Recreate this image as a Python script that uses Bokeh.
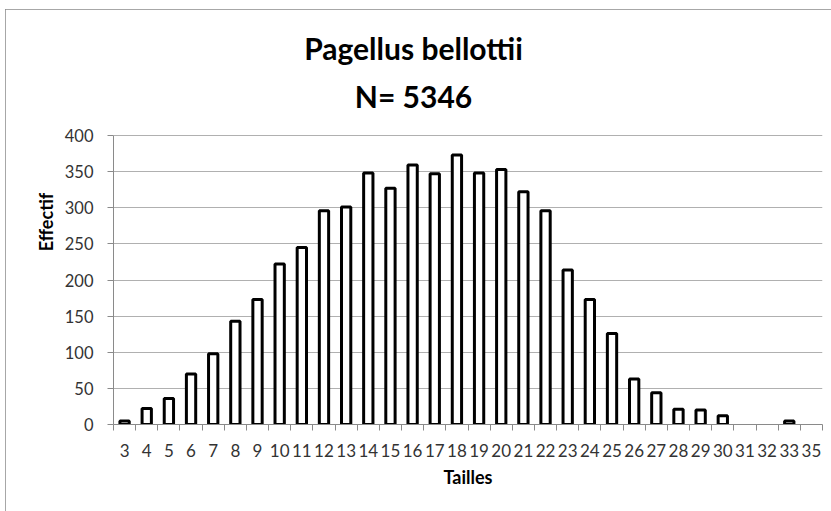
from bokeh.plotting import figure
from bokeh.models import Range1d, FixedTicker, Label, ColumnDataSource
from bokeh.embed import file_html
from bokeh.resources import INLINE

# ---- data ----
tailles = ["3", "4", "5", "6", "7", "8", "9", "10", "11", "12", "13", "14", "15", "16",
           "17", "18", "19", "20", "21", "22", "23", "24", "25", "26", "27", "28", "29",
           "30", "31", "32", "33", "35"]
effectif = [5, 22, 36, 70, 98, 143, 173, 222, 245, 296, 301, 348, 327, 359,
            347, 373, 348, 353, 322, 296, 214, 173, 126, 63, 44, 21, 20,
            12, 0, 0, 5, 0]
y_ticks = [0, 50, 100, 150, 200, 250, 300, 350, 400]
title_species = "Pagellus bellottii"
title_n = "N= 5346"
x_title = "Tailles"
y_title = "Effectif"

# ---- layout (pixels) ----
W, H = 826, 502
B_LEFT, B_RIGHT, B_TOP, B_BOTTOM = 108, 9, 10, 87
frame_h = H - B_TOP - B_BOTTOM
grid_h = 289  # pixel height between 0 and the top tick
y_top = y_ticks[-1] * frame_h / grid_h

idx = list(range(len(tailles)))
keep = [i for i in idx if effectif[i] > 0]
src = ColumnDataSource(data=dict(x=keep, top=[effectif[i] for i in keep]))

p = figure(width=W, height=H, output_backend="svg", toolbar_location=None,
           x_range=Range1d(-0.5, len(tailles) - 0.5), y_range=Range1d(0, y_top),
           min_border_left=B_LEFT, min_border_right=B_RIGHT,
           min_border_top=B_TOP, min_border_bottom=B_BOTTOM)
p.outline_line_color = None
p.background_fill_color = "white"
p.border_fill_color = "white"
p.styles = {"outline": "1px solid #8a8a8a", "outline-offset": "-1px",
            "transform": "translate(5px, 9px)"}

p.vbar(x="x", top="top", bottom=0, width=0.42, source=src,
       fill_color="white", line_color="black", line_width=3)

# x axis
p.xaxis.ticker = FixedTicker(ticks=idx, minor_ticks=[i - 0.5 for i in range(len(tailles) + 1)])
p.xaxis.major_label_overrides = {i: t for i, t in enumerate(tailles)}
p.xaxis.major_tick_line_color = None
p.xaxis.major_tick_out = 0
p.xaxis.major_tick_in = 0
p.xaxis.minor_tick_in = 0
p.xaxis.minor_tick_out = 6
p.xaxis.minor_tick_line_color = "#8a8a8a"
p.xaxis.major_label_standoff = 13
p.xaxis.axis_label = x_title
p.xaxis.axis_label_standoff = 6

# y axis
p.yaxis.ticker = FixedTicker(ticks=y_ticks, minor_ticks=[])
p.yaxis.bounds = (y_ticks[0], y_ticks[-1])
p.yaxis.major_tick_in = 0
p.yaxis.major_tick_out = 6
p.yaxis.major_tick_line_color = "#8a8a8a"
p.yaxis.minor_tick_line_color = None
p.yaxis.major_label_standoff = 14
p.yaxis.axis_label = y_title
p.yaxis.axis_label_standoff = 5

for ax in (p.xaxis[0], p.yaxis[0]):
    ax.axis_line_color = "#8a8a8a"
    ax.axis_line_width = 1
    ax.major_label_text_font = "Lato"
    ax.major_label_text_color = "#333333"
    ax.axis_label_text_font = "Lato"
    ax.axis_label_text_font_style = "bold"
    ax.axis_label_text_font_size = "18px"
    ax.axis_label_text_color = "black"
p.xaxis.major_label_text_font_size = "17px"
p.yaxis.major_label_text_font_size = "16.5px"

p.xgrid.grid_line_color = None
p.ygrid.grid_line_color = "#b0b0b0"
p.ygrid.grid_line_width = 1

# title (screen units relative to the frame's bottom-left corner)
for txt, ys in ((title_species, 377), (title_n, 329)):
    p.add_layout(Label(x=300, y=ys, x_units="screen", y_units="screen", text=txt,
                       text_align="center", text_baseline="alphabetic",
                       text_font="Lato", text_font_style="bold",
                       text_font_size="30px", text_color="black"))

open("out.html", "w").write(file_html(p, INLINE))
